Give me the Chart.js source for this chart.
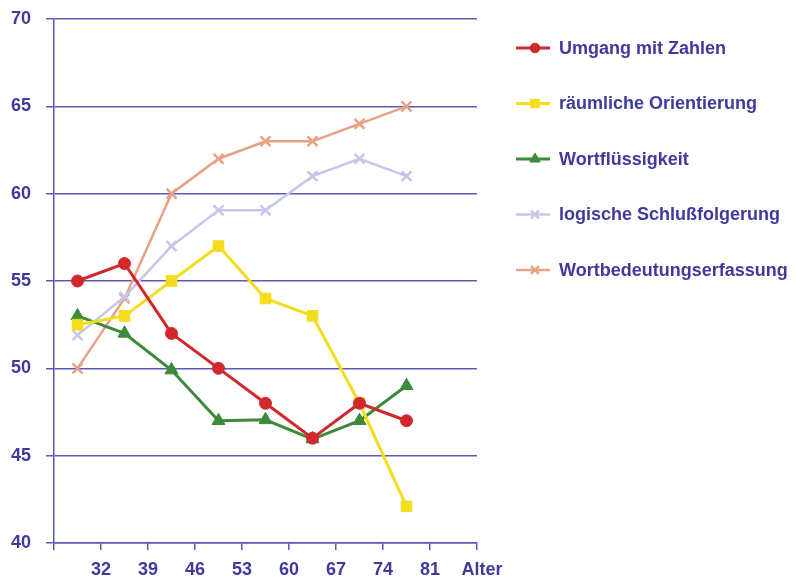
<!DOCTYPE html>
<html>
<head>
<meta charset="utf-8">
<script src="https://cdn.jsdelivr.net/npm/chart.js@4.4.1/dist/chart.umd.min.js"></script>
<style>
  html, body { margin: 0; padding: 0; background: #ffffff; }
  #wrap { width: 796px; height: 577px; position: relative; }
</style>
</head>
<body>
<div id="wrap"><canvas id="c" width="796" height="577"></canvas></div>
<script>
// Age group midpoints (x values of the points)
const ages = [28.5, 35.5, 42.5, 49.5, 56.5, 63.5, 70.5, 77.5];
// Tick labels on x axis
const xTickLabels = [32, 39, 46, 53, 60, 67, 74, 81];
const xAxisTitle = 'Alter';

const seriesNames = [
  'Umgang mit Zahlen',
  'räumliche Orientierung',
  'Wortflüssigkeit',
  'logische Schlußfolgerung',
  'Wortbedeutungserfassung'
];
const umgangMitZahlen        = [55, 56, 52, 50, 48, 46, 48, 47];
const raeumlicheOrientierung = [52.5, 53, 55, 57, 54, 53, 48, 42.1];
const wortfluessigkeit       = [53, 52, 49.9, 47, 47.05, 45.95, 47, 49];
const logischeSchlussfolg    = [51.9, 54.1, 57, 59.05, 59.05, 61, 62, 61];
const wortbedeutung          = [50, 54, 60, 62, 63, 63, 64, 65];

const TEXT = '#3f3a9c';
const GRID = '#5c59b9';
const FONT = '"Liberation Sans", Arial, sans-serif';

const styles = [
  { color: '#d1282c', pointStyle: 'circle',   radius: 6,   width: 3 },
  { color: '#f4dd1c', pointStyle: 'rect',     radius: 7.5, width: 3 },
  { color: '#3d8a3a', pointStyle: 'triangle', radius: 7.5, width: 3 },
  { color: '#c6c6ea', pointStyle: 'crossRot', radius: 7,   width: 2.5 },
  { color: '#e6a287', pointStyle: 'crossRot', radius: 7,   width: 2.5 }
];
const allValues = [umgangMitZahlen, raeumlicheOrientierung, wortfluessigkeit, logischeSchlussfolg, wortbedeutung];

const datasets = allValues.map((vals, i) => ({
  label: seriesNames[i],
  data: vals.map((v, j) => ({ x: ages[j], y: v })),
  borderColor: styles[i].color,
  backgroundColor: styles[i].color,
  borderWidth: styles[i].width,
  pointStyle: styles[i].pointStyle,
  pointRadius: styles[i].radius,
  pointBorderWidth: styles[i].pointStyle === 'crossRot' ? 2.5 : 1,
  pointBackgroundColor: styles[i].color,
  pointBorderColor: styles[i].color,
  tension: 0,
  fill: false
}));

const legendPlugin = {
  id: 'sideLegend',
  afterDraw(chart) {
    const ctx = chart.ctx;
    ctx.save();
    chart.data.datasets.forEach((ds, i) => {
      const y = 48 + i * 55.5;
      ctx.strokeStyle = ds.borderColor;
      ctx.lineWidth = ds.borderWidth;
      ctx.beginPath();
      ctx.moveTo(516, y);
      ctx.lineTo(550, y);
      ctx.stroke();
      ctx.fillStyle = ds.pointBackgroundColor;
      ctx.strokeStyle = ds.pointBorderColor;
      ctx.lineWidth = ds.pointBorderWidth;
      Chart.helpers.drawPoint(ctx, {
        pointStyle: ds.pointStyle,
        radius: ds.pointRadius * 0.8,
        rotation: 0,
        borderWidth: ds.pointBorderWidth
      }, 535, y);
      ctx.fillStyle = TEXT;
      ctx.font = 'bold 18px ' + FONT;
      ctx.textAlign = 'left';
      ctx.textBaseline = 'middle';
      ctx.fillText(ds.label, 559, y + 1);
    });
    ctx.restore();
  }
};

new Chart(document.getElementById('c'), {
  type: 'line',
  data: { datasets },
  plugins: [legendPlugin],
  options: {
    responsive: false,
    animation: false,
    layout: { padding: { top: 19, right: 319, left: 0, bottom: 0 } },
    plugins: { legend: { display: false }, tooltip: { enabled: false } },
    scales: {
      x: {
        type: 'linear',
        min: 25,
        max: 88,
        afterBuildTicks: (s) => {
          s.ticks = [25, ...xTickLabels, 88].map(v => ({ value: v }));
        },
        afterFit: (s) => { s.height = 34; },
        ticks: {
          autoSkip: false,
          maxRotation: 0,
          padding: 9,
          color: TEXT,
          font: { family: FONT, size: 18, weight: 'bold' },
          callback: (v) => {
            if (v === 88) return '  ' + xAxisTitle;
            if (xTickLabels.includes(v)) return String(v);
            return '';
          }
        },
        grid: { drawOnChartArea: false, drawTicks: true, tickLength: 7, color: GRID, lineWidth: 1.5 },
        border: { display: true, color: GRID, width: 1.5 }
      },
      y: {
        min: 40,
        max: 70,
        afterFit: (s) => { s.width = 54; s.paddingTop = 0; s.paddingBottom = 0; },
        ticks: {
          stepSize: 5,
          padding: 15,
          color: TEXT,
          font: { family: FONT, size: 18, weight: 'bold' }
        },
        grid: { drawOnChartArea: true, drawTicks: true, tickLength: 8, color: GRID, lineWidth: 1.5 },
        border: { display: true, color: GRID, width: 1.5 }
      }
    }
  }
});
</script>
</body>
</html>
